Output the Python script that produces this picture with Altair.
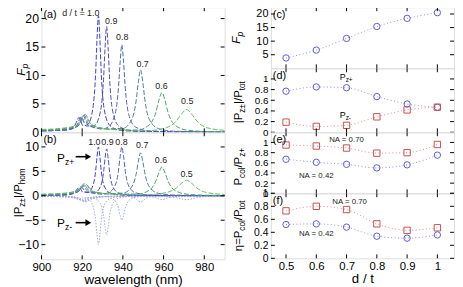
import altair as alt
import pandas as pd

FONT = "Liberation Sans"

# ---------------- data: (a) Purcell factor spectra ----------------
dt_labels = ["1.0", "0.9", "0.8", "0.7", "0.6", "0.5"]
curve_colors = ["#3c3cd8", "#4a4ac6", "#5262b4", "#4f7e8c", "#4f9c72", "#62bb62"]

a_wl = {
    "1.0": [900, 912, 916, 918.5, 920.5, 923, 925.2, 926.6, 927.3, 928, 928.7, 929.4, 930.8, 933.6, 939, 950, 990],
    "0.9": [900, 912, 917, 919.5, 922, 926, 929, 930.5, 931.25, 932, 932.75, 933.5, 935, 938, 944, 960, 990],
    "0.8": [900, 912, 918, 920.5, 923, 930, 932.7, 936.1, 937.8, 938.65, 939.5, 940.35, 941.2, 942.9, 946.3, 953, 970, 990],
    "0.7": [900, 912, 918.5, 921, 923.5, 930, 940, 944.3, 946.5, 947.6, 948.7, 949.8, 950.9, 953.1, 957.5, 965, 990],
    "0.6": [900, 910, 917, 921.5, 924.5, 935, 947.2, 953.2, 956.2, 957.7, 959.2, 960.7, 962.2, 965.2, 971.2, 980, 990],
    "0.5": [900, 910, 917, 922, 926, 935, 951.3, 961.3, 966.3, 968.8, 971.3, 973.8, 976.3, 981.3, 990],
}
a_fp = {
    "1.0": [0.25, 0.45, 1.0, 2.6, 1.1, 1.5, 4.1, 10.25, 16.4, 20.5, 16.4, 10.25, 4.1, 1.2, 0.33, 0.15, 0.05],
    "0.9": [0.25, 0.4, 1.0, 2.7, 1.1, 1.2, 3.7, 9.3, 14.9, 18.6, 14.9, 9.3, 3.7, 1.1, 0.28, 0.1, 0.05],
    "0.8": [0.25, 0.4, 1.1, 2.9, 1.2, 0.6, 0.9, 3.1, 7.7, 12.3, 15.4, 12.3, 7.7, 3.1, 0.9, 0.25, 0.1, 0.05],
    "0.7": [0.3, 0.5, 1.3, 3.0, 1.3, 0.6, 0.7, 2.2, 5.5, 8.8, 11.0, 8.8, 5.5, 2.2, 0.65, 0.2, 0.05],
    "0.6": [0.4, 0.6, 1.2, 3.1, 1.3, 0.5, 0.4, 1.4, 3.5, 5.6, 7.0, 5.6, 3.5, 1.4, 0.4, 0.15, 0.1],
    "0.5": [0.5, 0.7, 1.1, 2.4, 1.0, 0.5, 0.25, 0.8, 2.0, 3.2, 4.0, 3.2, 2.0, 0.8, 0.35],
}

# ---------------- data: (b) |P_z+| and |P_z-| spectra ----------------
bp_wl = a_wl
bp_val = {
    "1.0": [0.1, 0.2, 0.6, 1.7, 0.7, 0.75, 2.0, 5.0, 8.0, 10.0, 8.0, 5.0, 2.0, 0.6, 0.16, 0.07, 0.03],
    "0.9": [0.1, 0.2, 0.7, 1.8, 0.7, 0.6, 1.9, 4.8, 7.7, 9.6, 7.7, 4.8, 1.9, 0.56, 0.15, 0.05, 0.03],
    "0.8": [0.1, 0.25, 0.8, 2.0, 0.8, 0.35, 0.6, 2.0, 5.0, 8.0, 10.0, 8.0, 5.0, 2.0, 0.6, 0.16, 0.05, 0.03],
    "0.7": [0.15, 0.3, 1.0, 2.2, 1.0, 0.4, 0.55, 1.8, 4.4, 7.0, 8.8, 7.0, 4.4, 1.8, 0.5, 0.15, 0.04],
    "0.6": [0.25, 0.4, 1.0, 2.5, 1.0, 0.35, 0.35, 1.2, 3.0, 4.7, 5.9, 4.7, 3.0, 1.2, 0.35, 0.12, 0.08],
    "0.5": [0.35, 0.5, 0.9, 2.1, 0.8, 0.35, 0.2, 0.65, 1.6, 2.55, 3.2, 2.55, 1.6, 0.65, 0.28],
}
bm_wl = {
    "1.0": [900, 912, 916, 918.5, 920.5, 923, 925.2, 926.6, 927.3, 928, 928.7, 929.4, 930.8, 933.6, 939, 950, 990],
    "0.9": [900, 912, 917, 919.5, 922, 926, 929, 930.5, 931.25, 932, 932.75, 933.5, 935, 938, 944, 960, 990],
    "0.8": [900, 912, 918, 920.5, 923, 930, 932.7, 936.1, 937.8, 938.65, 939.5, 940.35, 941.2, 942.9, 946.3, 953, 990],
    "0.7": [900, 912, 918.5, 921, 923.5, 930, 940, 944.3, 946.5, 947.6, 948.7, 949.8, 950.9, 953.1, 957.5, 990],
    "0.6": [900, 910, 917, 921.5, 924.5, 935, 947.2, 953.2, 956.2, 959.2, 962.2, 965.2, 971.2, 990],
    "0.5": [900, 910, 917, 922, 926, 935, 951.3, 961.3, 966.3, 971.3, 976.3, 981.3, 990],
}
bm_val = {
    "1.0": [-0.05, -0.1, -0.3, -0.8, -0.4, -0.7, -2.0, -5.0, -8.0, -10.0, -8.0, -5.0, -2.0, -0.6, -0.16, -0.07, -0.03],
    "0.9": [-0.05, -0.1, -0.35, -0.9, -0.4, -0.5, -1.6, -4.0, -6.4, -8.0, -6.4, -4.0, -1.6, -0.47, -0.12, -0.04, -0.02],
    "0.8": [-0.05, -0.12, -0.4, -1.0, -0.4, -0.2, -0.3, -1.0, -2.5, -4.0, -5.0, -4.0, -2.5, -1.0, -0.3, -0.08, -0.02],
    "0.7": [-0.05, -0.15, -0.45, -1.1, -0.45, -0.15, -0.1, -0.26, -0.65, -1.05, -1.3, -1.05, -0.65, -0.26, -0.08, -0.02],
    "0.6": [-0.08, -0.2, -0.5, -1.2, -0.5, -0.1, -0.06, -0.16, -0.4, -0.8, -0.4, -0.16, -0.05, -0.02],
    "0.5": [-0.1, -0.2, -0.45, -1.1, -0.45, -0.1, -0.05, -0.16, -0.4, -0.8, -0.4, -0.16, -0.06],
}

# peak labels
a_lab_text = ["0.9", "0.8", "0.7", "0.6", "0.5"]
a_lab_wl = [934.3, 939.7, 949.7, 959.0, 971.6]
a_lab_fp = [19.6, 16.7, 12.0, 8.1, 5.5]
b_lab_text = ["1.0", "0.9", "0.8", "0.7", "0.6", "0.5"]
b_lab_wl = [926.0, 932.4, 939.3, 949.5, 958.7, 971.3]
b_lab_val = [10.9, 10.9, 10.9, 10.4, 7.3, 4.4]

# ---------------- data: right column ----------------
dt_vals = [0.5, 0.6, 0.7, 0.8, 0.9, 1.0]
fp_peak = [3.8, 6.7, 11.0, 15.4, 18.4, 20.5]
pz_plus = [0.77, 0.85, 0.835, 0.67, 0.53, 0.47]
pz_minus = [0.19, 0.11, 0.13, 0.29, 0.42, 0.47]
coll_pz_na70 = [0.95, 0.93, 0.89, 0.79, 0.80, 0.96]
coll_pz_na42 = [0.67, 0.61, 0.57, 0.50, 0.56, 0.75]
eta_na70 = [0.73, 0.80, 0.75, 0.53, 0.43, 0.47]
eta_na42 = [0.52, 0.53, 0.48, 0.34, 0.31, 0.36]

wl_ticks = [900, 920, 940, 960, 980]
dt_ticks = [0.5, 0.6, 0.7, 0.8, 0.9, 1.0]

BLUE = "#5a5ae0"
RED = "#c8504a"
BLUE_L = "#8c8ce8"
RED_L = "#e08a8a"
NEG = "#a4a8dc"

dummy = pd.DataFrame({"d": [0]})

CW = {'P': 0.667, 'z': 0.5, '±': 0.584, '|': 0.26, '/': 0.278, 't': 0.278, 'o': 0.556,
      'h': 0.556, 'm': 0.833, 'c': 0.5, 'l': 0.222, 'F': 0.611, 'p': 0.556, 'η': 0.556,
      '=': 0.584, '+': 0.584, '-': 0.333, ' ': 0.278}


def tw(s, size):
    return sum(CW.get(c, 0.556) for c in s) * size


def rot_title(segs, xb, yc, base):
    """segs: (text, is_sub, italic). Vertical title reading bottom to top."""
    total = sum(tw(t, base * 0.72 if sub else base) for t, sub, it in segs)
    y = yc + total / 2
    out = []
    for t, sub, it in segs:
        s = base * 0.72 if sub else base
        out.append(alt.Chart(dummy).mark_text(
            text=t, angle=270, align="left", baseline="alphabetic", fontSize=s,
            font=FONT, fontStyle="italic" if it else "normal", color="black"
        ).encode(x=alt.value(xb + (3 if sub else 0)), y=alt.value(y)))
        y -= tw(t, s)
    return out


def panel_label(t):
    return alt.Chart(dummy).mark_text(text=t, fontSize=11, font=FONT, align="left",
                                      baseline="top", color="black").encode(
        x=alt.value(2), y=alt.value(2))


def yaxis(vals, size=10, fmt=None):
    kw = dict(format=fmt) if fmt else dict(labelExpr="toString(datum.value)")
    return alt.Axis(values=vals, ticks=False, domain=False, grid=False, title=None,
                    labelPadding=3, labelFontSize=size, labelFont=FONT, labelColor="black",
                    labelFlush=False, labelOverlap=False, **kw)


def xaxis(vals, title, fmt=None):
    kw = dict(format=fmt) if fmt else dict(labelExpr="toString(datum.value)")
    return alt.Axis(values=vals, ticks=False, domain=False, grid=False, title=title,
                    labelPadding=2, labelFontSize=11.5, labelFont=FONT, labelColor="black",
                    labelFlush=False, labelOverlap=False,
                    titleFont=FONT, titleFontSize=13.5, titleFontWeight="normal", titleColor="black",
                    titlePadding=0, **kw)


class Panel:
    """Holds shared scales/axes so every layer of one panel agrees."""

    def __init__(self, xs, ys, xa, ya, w, h):
        self.xs, self.ys, self.xa, self.ya, self.w, self.h = xs, ys, xa, ya, w, h

    def X(self, f):
        return alt.X(f, type="quantitative", scale=self.xs, axis=self.xa)

    def Y(self, f):
        return alt.Y(f, type="quantitative", scale=self.ys, axis=self.ya)

    def ticks(self, xvals, yvals, L=4):
        dx = pd.DataFrame({"v": xvals})
        dy = pd.DataFrame({"v": yvals})
        bx = alt.Chart(dx).mark_rule(color="black", strokeWidth=1)
        by = alt.Chart(dy).mark_rule(color="black", strokeWidth=1)
        return [
            bx.encode(x=self.X("v"), y=alt.value(0), y2=alt.value(L)),
            bx.encode(x=self.X("v"), y=alt.value(self.h - L), y2=alt.value(self.h)),
            by.encode(y=self.Y("v"), x=alt.value(0), x2=alt.value(L)),
            by.encode(y=self.Y("v"), x=alt.value(self.w - L), x2=alt.value(self.w)),
        ]

    def text_at(self, t, xv, yv, size, align="center", dx=0, dy=0, color="#222222"):
        d = pd.DataFrame({"x": [xv], "y": [yv]})
        return alt.Chart(d).mark_text(text=t, fontSize=size, font=FONT, align=align,
                                      baseline="alphabetic", dx=dx, dy=dy, color=color).encode(
            x=self.X("x"), y=self.Y("y"))

    def sub_text(self, xv, yv, main, sub, size, dy_sub):
        return [self.text_at(main, xv, yv, size, align="right", color="black"),
                self.text_at(sub, xv, yv, size * 0.72, align="left", dy=dy_sub, color="black")]


def long_df(wl_d, v_d):
    rows = []
    for k in dt_labels:
        for w, v in zip(wl_d[k], v_d[k]):
            rows.append({"wl": w, "v": v, "dt": k})
    return pd.DataFrame(rows)


# ---------------- left column ----------------
LW = 186
A_H, B_H = 127, 129
xs_wl = alt.Scale(domain=[900, 990], nice=False, zero=False)
col_scale = alt.Scale(domain=dt_labels, range=curve_colors)

pa = Panel(xs_wl, alt.Scale(domain=[0, 22], nice=False, zero=False), None,
           yaxis([0, 5, 10, 15, 20], 12.5, "d"), LW, A_H)
df_a = long_df(a_wl, a_fp)
lines_a = alt.Chart(df_a).mark_line(strokeWidth=1, strokeDash=[5, 2], interpolate="monotone").encode(
    x=pa.X("wl"), y=pa.Y("v"), color=alt.Color("dt:N", scale=col_scale, legend=None))
lab_a = alt.Chart(pd.DataFrame({"t": a_lab_text, "x": a_lab_wl, "y": a_lab_fp})).mark_text(
    fontSize=9, font=FONT, color="#222222").encode(x=pa.X("x"), y=pa.Y("y"), text="t:N")
dt_txt = alt.Chart(dummy).mark_text(text="d / t = 1.0", fontSize=9, font=FONT, align="left",
                                    baseline="top", color="#222222").encode(
    x=alt.value(21), y=alt.value(2))
chart_a = alt.layer(
    lines_a, lab_a, dt_txt, panel_label("(a)"),
    *pa.ticks(wl_ticks, [5, 10, 15, 20]),
    *rot_title([("F", False, True), ("p", True, True)], -17, A_H / 2, 12),
).properties(width=LW, height=A_H)

pb = Panel(xs_wl, alt.Scale(domain=[-13, 13], nice=False, zero=False),
           xaxis(wl_ticks, "wavelength (nm)", "d"), yaxis([-10, -5, 0, 5, 10], 12.5, "d"), LW, B_H)
df_bp = long_df(bp_wl, bp_val)
df_bm = long_df(bm_wl, bm_val)
lines_bm = alt.Chart(df_bm).mark_line(strokeWidth=1, strokeDash=[1.5, 1.5], interpolate="monotone",
                                      color=NEG).encode(x=pb.X("wl"), y=pb.Y("v"), detail="dt:N")
lines_bp = alt.Chart(df_bp).mark_line(strokeWidth=1, strokeDash=[5, 2], interpolate="monotone").encode(
    x=pb.X("wl"), y=pb.Y("v"), color=alt.Color("dt:N", scale=col_scale, legend=None))
lab_b = alt.Chart(pd.DataFrame({"t": b_lab_text, "x": b_lab_wl, "y": b_lab_val})).mark_text(
    fontSize=9, font=FONT, color="#222222").encode(x=pb.X("x"), y=pb.Y("y"), text="t:N")
arrows = pd.DataFrame({"x": [916.8, 916.8], "x2": [923.0, 923.0], "y": [8.0, -5.5]})
arrow_rules = alt.Chart(arrows).mark_rule(color="black", strokeWidth=1.6).encode(
    x=pb.X("x"), x2="x2:Q", y=pb.Y("y"))
arrow_heads = alt.Chart(arrows).mark_point(shape="triangle-right", filled=True, size=45,
                                           color="black", opacity=1).encode(
    x=pb.X("x2"), y=pb.Y("y"))
chart_b = alt.layer(
    lines_bm, lines_bp, lab_b, arrow_rules, arrow_heads, panel_label("(b)"),
    *pb.sub_text(911.5, 7.0, "P", "z+", 12, 3),
    *pb.sub_text(911.5, -6.3, "P", "z-", 12, 3),
    *pb.ticks(wl_ticks, [-10, -5, 0, 5, 10]),
    *rot_title([("|P", False, False), ("z±", True, False), ("|/P", False, False), ("hom", True, False)],
               -20, B_H / 2 - 3, 11.5),
).properties(width=LW, height=B_H)

left = alt.vconcat(chart_a, chart_b, spacing=0, bounds="flush")

# ---------------- right column ----------------
RW = 186
C_H, D_H, E_H, F_H = 62, 65, 62, 66
xs_dt = alt.Scale(domain=[0.45, 1.055], nice=False, zero=False)
df_r = pd.DataFrame({"dt": dt_vals, "fp": fp_peak, "zp": pz_plus, "zm": pz_minus,
                     "c70": coll_pz_na70, "c42": coll_pz_na42, "e70": eta_na70, "e42": eta_na42})
ticks01 = [0, 0.2, 0.4, 0.6, 0.8, 1]


def series(p, field, color, lcolor, shape):
    base = alt.Chart(df_r)
    ln = base.mark_line(color=lcolor, strokeWidth=1, strokeDash=[1, 2.5], interpolate="monotone").encode(
        x=p.X("dt"), y=p.Y(field))
    pt = base.mark_point(shape=shape, filled=False, size=42, strokeWidth=1, color=color, opacity=1).encode(
        x=p.X("dt"), y=p.Y(field))
    return [ln, pt]


pc = Panel(xs_dt, alt.Scale(domain=[0, 22.5], nice=False, zero=False), None,
           yaxis([5, 10, 15, 20], 11, "d"), RW, C_H)
chart_c = alt.layer(
    *series(pc, "fp", BLUE, BLUE_L, "circle"),
    panel_label("(c)"),
    *pc.ticks(dt_ticks, [5, 10, 15, 20]),
    *rot_title([("F", False, True), ("p", True, True)], -31, C_H / 2, 12),
).properties(width=RW, height=C_H)

pd_ = Panel(xs_dt, alt.Scale(domain=[0, 1.2], nice=False, zero=False), None, yaxis(ticks01), RW, D_H)
chart_d = alt.layer(
    *series(pd_, "zp", BLUE, BLUE_L, "circle"),
    *series(pd_, "zm", RED, RED_L, "square"),
    panel_label("(d)"),
    *pd_.sub_text(0.697, 0.98, "P", "z+", 9, 2),
    *pd_.sub_text(0.697, 0.26, "P", "z-", 9, 2),
    *pd_.ticks(dt_ticks, ticks01),
    *rot_title([("|P", False, False), ("z±", True, False), ("|/P", False, False), ("tot", True, False)],
               -29, D_H / 2 + 2, 11.5),
).properties(width=RW, height=D_H)

pe = Panel(xs_dt, alt.Scale(domain=[0, 1.2], nice=False, zero=False), None, yaxis(ticks01), RW, E_H)
chart_e = alt.layer(
    *series(pe, "c70", RED, RED_L, "square"),
    *series(pe, "c42", BLUE, BLUE_L, "circle"),
    panel_label("(e)"),
    pe.text_at("NA = 0.70", 0.70, 1.01, 8),
    pe.text_at("NA = 0.42", 0.60, 0.31, 8),
    *pe.ticks(dt_ticks, ticks01),
    *rot_title([("P", False, False), ("col", True, False), ("/P", False, False), ("z+", True, False)],
               -29, E_H / 2 + 4, 11.5),
).properties(width=RW, height=E_H)

pf = Panel(xs_dt, alt.Scale(domain=[0, 1.0], nice=False, zero=False), xaxis(dt_ticks, "d / t"),
           yaxis(ticks01, 10.5), RW, F_H)
chart_f = alt.layer(
    *series(pf, "e70", RED, RED_L, "square"),
    *series(pf, "e42", BLUE, BLUE_L, "circle"),
    panel_label("(f)"),
    pf.text_at("NA = 0.70", 0.71, 0.83, 8),
    pf.text_at("NA = 0.42", 0.60, 0.345, 8),
    *pf.ticks(dt_ticks, ticks01),
    *rot_title([("η=P", False, False), ("col", True, False), ("/P", False, False), ("tot", True, False)],
               -29, F_H / 2, 11.5),
).properties(width=RW, height=F_H)

right = alt.vconcat(chart_c, chart_d, chart_e, chart_f, spacing=0, bounds="flush")

chart = alt.hconcat(left, right, spacing=2).properties(
    padding={"left": 4, "top": -4, "right": 0, "bottom": 3}
).configure_view(stroke="black", strokeWidth=1.2).configure(font=FONT)

chart.save("out.html", embed_options={"renderer": "svg", "actions": False})
